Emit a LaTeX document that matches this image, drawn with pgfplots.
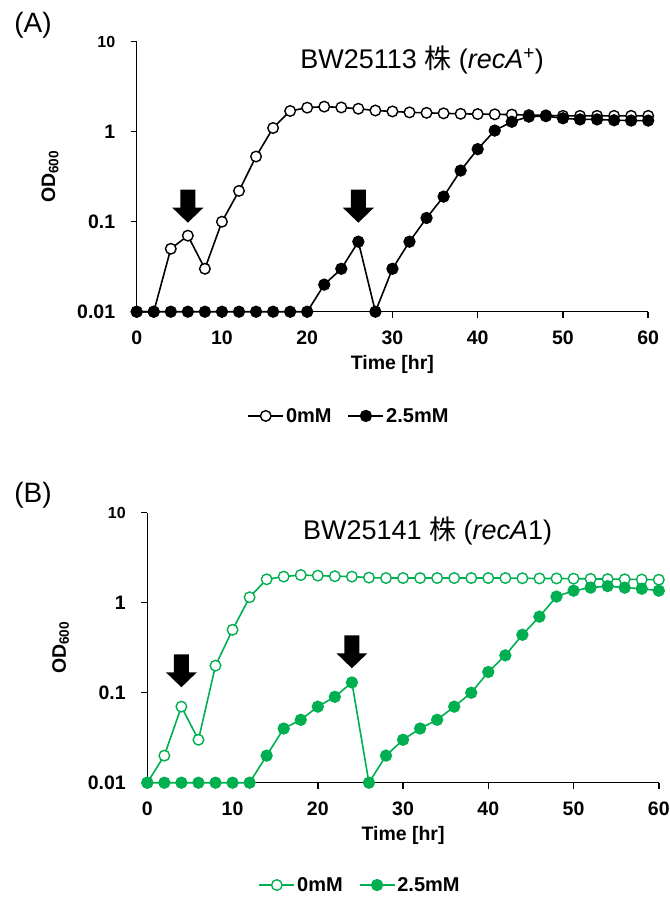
\documentclass[border=0pt]{standalone}
\usepackage{pgfplots}
\pgfplotsset{compat=1.18}
\usepackage{fontspec}
\setmainfont{Liberation Sans}
\newfontfamily\cjk{Noto Sans CJK JP}
\definecolor{grn}{RGB}{0,176,80}

\pgfplotstableread{
t v
0 0.01
2 0.01
4 0.05
6 0.07
8 0.03
10 0.1
12 0.22
14 0.53
16 1.1
18 1.7
20 1.85
22 1.9
24 1.86
26 1.8
28 1.72
30 1.68
32 1.64
34 1.62
36 1.6
38 1.58
40 1.57
42 1.56
44 1.55
46 1.53
48 1.52
50 1.5
52 1.5
54 1.5
56 1.5
58 1.5
60 1.5
}\Aopen
\pgfplotstableread{
t v
0 0.01
2 0.01
4 0.01
6 0.01
8 0.01
10 0.01
12 0.01
14 0.01
16 0.01
18 0.01
20 0.01
22 0.02
24 0.03
26 0.06
28 0.01
30 0.03
32 0.06
34 0.11
36 0.19
38 0.37
40 0.64
42 1.03
44 1.29
46 1.47
48 1.49
50 1.41
52 1.37
54 1.37
56 1.34
58 1.33
60 1.33
}\Afill
\pgfplotstableread{
t v
0 0.01
2 0.02
4 0.07
6 0.03
8 0.2
10 0.5
12 1.15
14 1.82
16 1.95
18 2.03
20 2.0
22 1.97
24 1.95
26 1.9
28 1.88
30 1.88
32 1.88
34 1.88
36 1.88
38 1.88
40 1.88
42 1.88
44 1.87
46 1.86
48 1.86
50 1.85
52 1.84
54 1.83
56 1.82
58 1.81
60 1.8
}\Bopen
\pgfplotstableread{
t v
0 0.01
2 0.01
4 0.01
6 0.01
8 0.01
10 0.01
12 0.01
14 0.02
16 0.04
18 0.05
20 0.07
22 0.09
24 0.13
26 0.01
28 0.02
30 0.03
32 0.04
34 0.05
36 0.07
38 0.1
40 0.17
42 0.26
44 0.44
46 0.7
48 1.17
50 1.36
52 1.47
54 1.53
56 1.47
58 1.43
60 1.36
}\Bfill

\pgfplotsset{
 odstyle/.style={
  scale only axis, width=511.5pt, height=270pt,
  xmin=0, xmax=60, ymin=0.01, ymax=10,
  axis x line*=bottom, axis y line*=left,
  axis line style={line width=1.5pt, -},
  xtick={0,10,...,60}, xticklabels={0,10,20,30,40,50,60},
  ytick={0.01,0.1,1,10},
  yticklabels={0.01,0.1,1,{\fontsize{16}{16}\selectfont 10}},
  yminorticks=false, xminorticks=false,
  tick align=outside, major tick length=6pt,
  tick style={line width=1.5pt, black},
  ticklabel style={font=\fontsize{19.5}{19.5}\selectfont\bfseries},
  yticklabel style={xshift=-12pt},
  xticklabel style={yshift=-10pt},
  clip=false,
  xlabel={Time [hr]}, ylabel={OD\textsubscript{600}},
  label style={font=\fontsize{19.5}{19.5}\selectfont\bfseries},
  xlabel style={at={(axis description cs:0.5,-0.194)}, anchor=center},
  ylabel style={at={(axis description cs:-0.1695,0.5)}, anchor=center},
  legend columns=2,
  legend style={draw=none, fill=none, font=\fontsize{20}{20}\selectfont\bfseries,
    anchor=center, /tikz/every even column/.append style={column sep=14pt}},
  legend image code/.code={\draw[mark repeat=2,mark phase=2] plot coordinates {(0pt,0pt)(17.5pt,0pt)(35pt,0pt)};},
 },
 openS/.style={#1, line width=1.6pt, mark=*, mark size=5.3pt, mark options={fill=white, draw=#1, line width=1.4pt}},
 fillS/.style={#1, line width=1.6pt, mark=*, mark size=5.5pt, mark options={fill=#1, draw=#1, line width=1.3pt}},
}

\newcommand{\downarrowat}[1]{%
 \fill[black] #1 -- ++(-15.5pt,15pt) -- ++(8pt,0pt) -- ++(0pt,18pt) -- ++(15pt,0pt) -- ++(0pt,-18pt) -- ++(8pt,0pt) -- cycle;}

\begin{document}
\begin{tikzpicture}
\useasboundingbox (0pt,0pt) rectangle (670pt,-898pt);
\node[anchor=center] at (33pt,-25pt) {\fontsize{28}{28}\selectfont (A)};
\node[anchor=center] at (33pt,-495pt) {\fontsize{28}{28}\selectfont (B)};

\begin{semilogyaxis}[odstyle, at={(136.7pt,-311.7pt)}, anchor=south west,
  legend style={at={(axis description cs:0.415,-0.386)}}]
\addplot[openS=black] table[x=t,y=v] {\Aopen};
\addlegendentry{0mM}
\addplot[fillS=black] table[x=t,y=v] {\Afill};
\addlegendentry{2.5mM}
\downarrowat{(axis cs:6,0.0975)}
\downarrowat{(axis cs:26,0.0975)}
\node[anchor=center] at (axis description cs:0.558,0.932) {\fontsize{27}{27}\selectfont BW25113 {\cjk 株} (\textit{recA}\textsuperscript{+})};
\end{semilogyaxis}

\begin{semilogyaxis}[odstyle, at={(147.3pt,-782.7pt)}, anchor=south west,
  legend style={at={(axis description cs:0.416,-0.379)}}]
\addplot[openS=grn] table[x=t,y=v] {\Bopen};
\addlegendentry{0mM}
\addplot[fillS=grn] table[x=t,y=v] {\Bfill};
\addlegendentry{2.5mM}
\downarrowat{(axis cs:4,0.115)}
\downarrowat{(axis cs:24,0.187)}
\node[anchor=center] at (axis description cs:0.548,0.932) {\fontsize{27}{27}\selectfont BW25141 {\cjk 株} (\textit{recA}1)};
\end{semilogyaxis}
\end{tikzpicture}
\end{document}
